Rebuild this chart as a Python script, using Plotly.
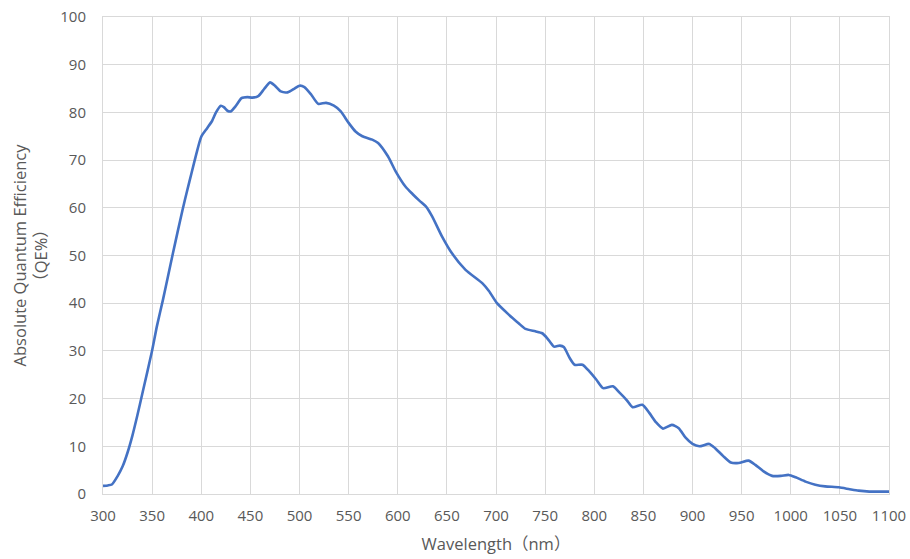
import plotly.graph_objects as go

# Quantum efficiency curve of the sensor (wavelength in nm, QE in %)
wavelength_nm = [
    300, 305, 309, 315, 320, 325, 330, 335, 340, 345, 350, 355, 361, 366, 371, 376,
    381, 386, 390, 395, 400, 406, 411, 415, 420, 423, 427, 430, 435, 441, 447,
    452, 458, 464, 470, 475, 481, 488, 495, 500, 505, 512, 519, 527, 535, 542,
    550, 557, 564, 574, 580, 590, 598, 608, 615, 622, 629, 635, 645, 655, 669,
    686, 693, 701, 713, 723, 730, 740, 747, 752, 759, 765, 769, 775, 780, 788,
    795, 802, 809, 819, 826, 833, 839, 849, 856, 863, 870, 879, 886, 893, 900,
    907, 917, 923, 931, 939, 947, 957, 964, 972, 981, 990, 998, 1005, 1015,
    1025, 1035, 1049, 1060, 1069, 1080, 1098, 1100,
]
qe_percent = [
    1.7, 1.8, 2.0, 3.8, 5.8, 8.7, 12.3, 16.5, 21.0, 25.5, 30.1, 35.3, 40.7, 45.5, 50.3, 55.0,
    59.6, 63.9, 67.2, 71.3, 74.9, 76.7, 78.2, 80.0, 81.4, 81.1, 80.3, 80.2, 81.3, 83.0, 83.2,
    83.1, 83.4, 84.9, 86.3, 85.6, 84.4, 84.2, 85.0, 85.6, 85.3, 83.7, 81.8, 82.0, 81.4, 80.2,
    77.8, 76.0, 75.0, 74.3, 73.6, 70.8, 67.6, 64.4, 62.9, 61.5, 60.2, 58.2, 54.0, 50.5, 47.0,
    44.2, 42.5, 40.0, 37.6, 35.8, 34.6, 34.1, 33.7, 32.7, 30.9, 31.1, 30.8, 28.5, 27.1, 27.1,
    25.7, 24.0, 22.2, 22.6, 21.2, 19.7, 18.2, 18.7, 17.0, 15.0, 13.7, 14.5, 13.8, 11.8, 10.5,
    10.0, 10.5, 9.6, 8.0, 6.6, 6.5, 7.0, 6.1, 4.8, 3.8, 3.8, 4.0, 3.5, 2.6,
    1.95, 1.6, 1.4, 1.0, 0.7, 0.5, 0.5, 0.5,
]

x_ticks = list(range(300, 1101, 50))
y_ticks = list(range(0, 101, 10))

font_family = "Open Sans, Noto Sans CJK SC, sans-serif"
text_color = "#595959"
grid_color = "#d9d9d9"

fig = go.Figure(
    go.Scatter(
        x=wavelength_nm,
        y=qe_percent,
        mode="lines",
        line=dict(color="#4472C4", width=2.6, shape="spline", smoothing=0.6),
        hoverinfo="x+y",
    )
)

fig.update_layout(
    width=910,
    height=559,
    margin=dict(l=103, r=21, t=17, b=65),
    paper_bgcolor="white",
    plot_bgcolor="white",
    showlegend=False,
    font=dict(family=font_family, size=15, color=text_color),
)

fig.update_xaxes(
    range=[300, 1100],
    tickvals=x_ticks,
    ticktext=[str(v) for v in x_ticks],
    automargin=False,
    showgrid=True,
    gridcolor=grid_color,
    gridwidth=1,
    zeroline=False,
    showline=True,
    linecolor=grid_color,
    mirror=True,
    ticks="outside",
    ticklen=8,
    tickcolor="rgba(0,0,0,0)",
    tickfont=dict(size=15, color=text_color),
    title=dict(text="Wavelength（nm）", font=dict(size=16.5, color=text_color), standoff=14),
)

fig.update_yaxes(
    range=[0, 100],
    tickvals=y_ticks,
    ticktext=[str(v) for v in y_ticks],
    automargin=False,
    showgrid=True,
    gridcolor=grid_color,
    gridwidth=1,
    zeroline=False,
    showline=True,
    linecolor=grid_color,
    mirror=True,
    ticks="outside",
    ticklen=13,
    tickcolor="rgba(0,0,0,0)",
    tickfont=dict(size=15, color=text_color),
    title=dict(
        text="Absolute Quantum Efficiency<br>（QE%）",
        font=dict(size=16.5, color=text_color),
        standoff=8,
    ),
)

fig.write_html("out.html")
